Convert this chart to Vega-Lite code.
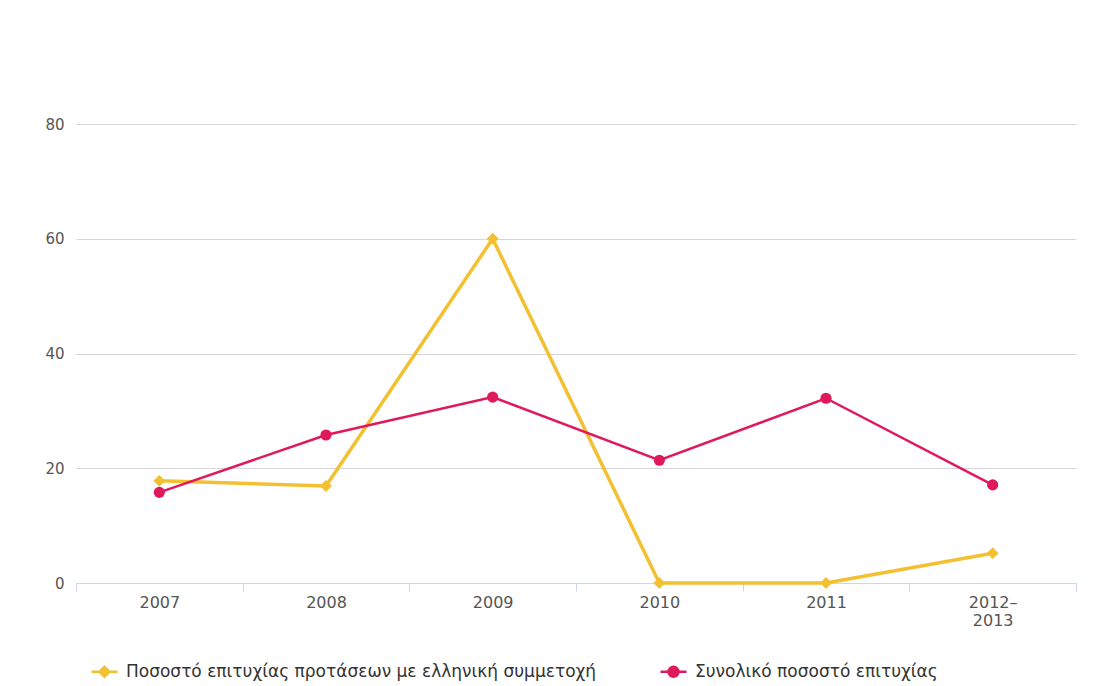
{
  "$schema": "https://vega.github.io/schema/vega-lite/v6.json",
  "width": 1000,
  "height": 459,
  "autosize": {"type": "none"},
  "padding": {"left": 76, "top": 124, "right": 21, "bottom": 103},
  "background": "#ffffff",
  "config": {
    "view": {"stroke": null},
    "font": "DejaVu Sans"
  },
  "data": {
    "values": [
      {"year": "2007", "series": "Ποσοστό επιτυχίας προτάσεων με ελληνική συμμετοχή", "value": 17.8},
      {"year": "2008", "series": "Ποσοστό επιτυχίας προτάσεων με ελληνική συμμετοχή", "value": 16.9},
      {"year": "2009", "series": "Ποσοστό επιτυχίας προτάσεων με ελληνική συμμετοχή", "value": 60},
      {"year": "2010", "series": "Ποσοστό επιτυχίας προτάσεων με ελληνική συμμετοχή", "value": 0},
      {"year": "2011", "series": "Ποσοστό επιτυχίας προτάσεων με ελληνική συμμετοχή", "value": 0},
      {"year": "2012-2013", "series": "Ποσοστό επιτυχίας προτάσεων με ελληνική συμμετοχή", "value": 5.2},
      {"year": "2007", "series": "Συνολικό ποσοστό επιτυχίας", "value": 15.8},
      {"year": "2008", "series": "Συνολικό ποσοστό επιτυχίας", "value": 25.8},
      {"year": "2009", "series": "Συνολικό ποσοστό επιτυχίας", "value": 32.4},
      {"year": "2010", "series": "Συνολικό ποσοστό επιτυχίας", "value": 21.4},
      {"year": "2011", "series": "Συνολικό ποσοστό επιτυχίας", "value": 32.2},
      {"year": "2012-2013", "series": "Συνολικό ποσοστό επιτυχίας", "value": 17.1}
    ]
  },
  "encoding": {
    "x": {
      "field": "year",
      "type": "ordinal",
      "sort": null,
      "scale": {"type": "band", "paddingInner": 0, "paddingOuter": 0},
      "axis": {
        "title": null,
        "labelAngle": 0,
        "tickBand": "extent",
        "domainColor": "#ccd6eb",
        "tickColor": "#ccd6eb",
        "tickSize": 8,
        "labelColor": "#555555",
        "labelFontSize": 16,
        "labelPadding": 3,
        "grid": false,
        "labelExpr": "datum.value == '2012-2013' ? ['2012–', '2013'] : datum.label"
      }
    },
    "y": {
      "field": "value",
      "type": "quantitative",
      "scale": {"domain": [0, 80]},
      "axis": {
        "title": null,
        "values": [0, 20, 40, 60, 80],
        "domain": false,
        "ticks": false,
        "gridColor": "#d6d6d6",
        "gridWidth": 1.2,
        "labelColor": "#555555",
        "labelFontSize": 15,
        "labelPadding": 12
      }
    },
    "color": {
      "field": "series",
      "type": "nominal",
      "sort": ["Ποσοστό επιτυχίας προτάσεων με ελληνική συμμετοχή", "Συνολικό ποσοστό επιτυχίας"],
      "scale": {
        "domain": ["Ποσοστό επιτυχίας προτάσεων με ελληνική συμμετοχή", "Συνολικό ποσοστό επιτυχίας"],
        "range": ["#f2c030", "#e0185e"]
      },
      "legend": {
        "title": null,
        "orient": "none",
        "legendX": 14,
        "legendY": 533,
        "direction": "horizontal",
        "labelFontSize": 17,
        "labelColor": "#333333",
        "labelFont": "DejaVu Sans",
        "labelLimit": 0,
        "symbolSize": 676,
        "symbolStrokeWidth": 2.5,
        "labelOffset": 7,
        "columnPadding": 58,
        "encode": {
          "symbols": {
            "update": {
              "shape": {"signal": "datum.index == 0 ? 'M-1,0H1M0,-0.38L0.38,0L0,0.38L-0.38,0Z' : 'M-1,0H1M0.38,0A0.38,0.38,0,1,1,-0.38,0A0.38,0.38,0,1,1,0.38,0Z'"}
            }
          }
        }
      }
    }
  },
  "layer": [
    {
      "transform": [{"filter": "datum.series == 'Ποσοστό επιτυχίας προτάσεων με ελληνική συμμετοχή'"}],
      "mark": {"type": "line", "strokeWidth": 3.5}
    },
    {
      "transform": [{"filter": "datum.series == 'Συνολικό ποσοστό επιτυχίας'"}],
      "mark": {"type": "line", "strokeWidth": 2.5}
    },
    {
      "transform": [{"filter": "datum.series == 'Ποσοστό επιτυχίας προτάσεων με ελληνική συμμετοχή'"}],
      "mark": {"type": "point", "shape": "diamond", "filled": true, "opacity": 1, "size": 140}
    },
    {
      "transform": [{"filter": "datum.series == 'Συνολικό ποσοστό επιτυχίας'"}],
      "mark": {"type": "point", "shape": "circle", "filled": true, "opacity": 1, "size": 125}
    }
  ]
}
